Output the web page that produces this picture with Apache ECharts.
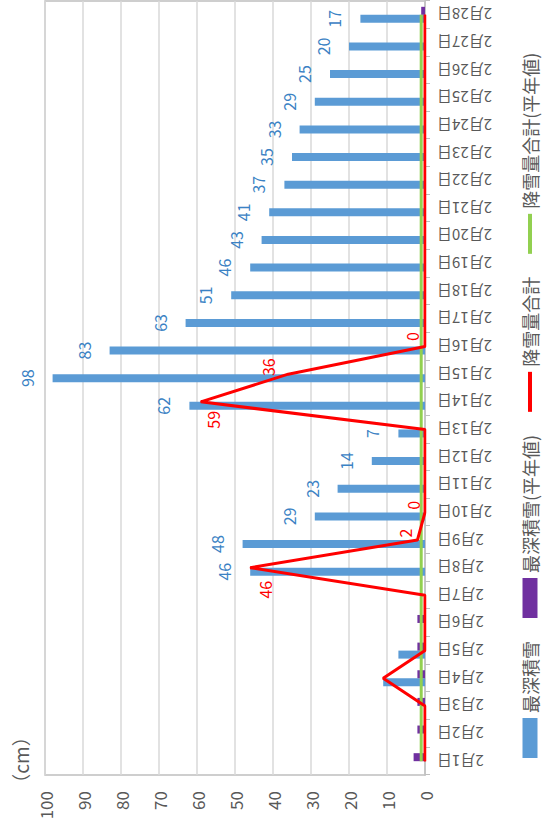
<!DOCTYPE html>
<html>
<head>
<meta charset="utf-8">
<script src="https://cdn.jsdelivr.net/npm/echarts@6/dist/echarts.min.js"></script>
<style>
html, body { margin: 0; padding: 0; width: 543px; height: 830px; overflow: hidden; background: #ffffff; }
#chart { position: absolute; left: 0; top: 0; width: 830px; height: 543px;
  transform-origin: 0 0; transform: translate(0, 830px) rotate(-90deg); }
</style>
</head>
<body>
<div id="chart"></div>
<script>
// ---- data ----
const categories = ['2月1日','2月2日','2月3日','2月4日','2月5日','2月6日','2月7日','2月8日','2月9日','2月10日',
  '2月11日','2月12日','2月13日','2月14日','2月15日','2月16日','2月17日','2月18日','2月19日','2月20日',
  '2月21日','2月22日','2月23日','2月24日','2月25日','2月26日','2月27日','2月28日'];
const snowDepth       = [0, 0, 0, 11, 7, 0, 0, 46, 48, 29, 23, 14, 7, 62, 98, 83, 63, 51, 46, 43, 41, 37, 35, 33, 29, 25, 20, 17];
const snowDepthNormal = [3, 2, 2, 2, 2, 2, 0, 0, 0, 0, 0, 0, 0, 0, 0, 0, 0, 0, 0, 0, 0, 0, 0, 0, 0, 0, 0, 1];
const snowfall        = [0, 0, 0, 11, 0, 0, 0, 46, 2, 0, 0, 0, 0, 59, 36, 0, 0, 0, 0, 0, 0, 0, 0, 0, 0, 0, 0, 0];
const snowfallNormal  = [1, 1, 1, 1, 1, 1, 1, 1, 1, 1, 1, 1, 1, 1, 1, 1, 1, 1, 1, 1, 1, 1, 1, 1, 1, 1, 1, 1];
const seriesNames = ['最深積雪', '最深積雪(平年値)', '降雪量合計', '降雪量合計(平年値)'];
const valueMin = 0, valueMax = 100, valueStep = 10;
const axisUnit = '（cm）';

// which points carry a visible label (indices into the arrays)
const depthLabelIdx = [7,8,9,10,11,12,13,14,15,16,17,18,19,20,21,22,23,24,25,26,27];
const snowfallLabelIdx = [7, 8, 9, 13, 14, 15];
// label placement (style, not data)
const snowfallLabelOffset = { 7: [-22, 15], 8: [7, -12], 9: [7, -12], 13: [-18, 12], 14: [7, -20], 15: [10, -13] };

const depthData = snowDepth.map((v, i) => ({ value: v, label: { show: depthLabelIdx.includes(i) } }));
const snowfallData = snowfall.map((v, i) => snowfallLabelIdx.includes(i)
  ? { value: v, label: { show: true, position: 'inside', offset: snowfallLabelOffset[i] } }
  : { value: v, label: { show: false } });

const FONT = '"Noto Sans CJK JP", "Noto Sans", sans-serif';
const lineIcon = 'path://M0,0H40V4H0Z';

const chart = echarts.init(document.getElementById('chart'), null, { renderer: 'svg' });
chart.setOption({
  animation: false,
  backgroundColor: '#ffffff',
  textStyle: { fontFamily: FONT },
  grid: { left: 55, right: 1, top: 45, bottom: 118, show: true, borderColor: '#bfbfbf', borderWidth: 1.5 },
  graphic: [{
    type: 'text', x: 70, y: 20, silent: true,
    style: { text: axisUnit, fontSize: 19, fill: '#595959', align: 'center', verticalAlign: 'middle', fontFamily: FONT }
  }],
  legend: {
    left: 67, top: 516, orient: 'horizontal',
    itemWidth: 40, itemHeight: 15, itemGap: 23,
    textStyle: { fontSize: 18, color: '#595959', fontFamily: FONT },
    data: [
      { name: seriesNames[0], icon: 'rect' },
      { name: seriesNames[1], icon: 'rect' },
      { name: seriesNames[2], icon: lineIcon },
      { name: seriesNames[3], icon: lineIcon }
    ]
  },
  xAxis: {
    type: 'category', data: categories, boundaryGap: true,
    axisLine: { show: true, lineStyle: { color: '#bfbfbf', width: 1.5 } },
    axisTick: { show: true, length: 5, lineStyle: { color: '#bfbfbf' } },
    axisLabel: { rotate: 90, margin: 12, fontSize: 15, color: '#595959', fontFamily: FONT, interval: 0 }
  },
  yAxis: {
    type: 'value', min: valueMin, max: valueMax, interval: valueStep,
    axisLine: { show: false },
    axisTick: { show: false },
    axisLabel: { fontSize: 17, color: '#595959', margin: 16, fontFamily: FONT },
    splitLine: { show: true, lineStyle: { color: '#d9d9d9', width: 1.5 } }
  },
  series: [
    {
      name: seriesNames[0], type: 'bar', data: depthData, barWidth: 8, barGap: '0%',
      clip: false,
      itemStyle: { color: '#5b9bd5' },
      label: { position: ['50%', -26], align: 'center', verticalAlign: 'middle',
               fontSize: 16, color: '#3b82c4', fontFamily: FONT }
    },
    {
      name: seriesNames[1], type: 'bar', data: snowDepthNormal, barWidth: 8, barGap: '0%',
      itemStyle: { color: '#7030a0' }
    },
    {
      name: seriesNames[2], type: 'line', data: snowfallData,
      symbol: 'circle', symbolSize: 1, showSymbol: true,
      lineStyle: { color: '#ff0000', width: 3 }, itemStyle: { color: '#ff0000' },
      label: { fontSize: 16, color: '#ff0000', fontFamily: FONT },
      z: 4
    },
    {
      name: seriesNames[3], type: 'line', data: snowfallNormal,
      symbol: 'none',
      lineStyle: { color: '#92d050', width: 3 }, itemStyle: { color: '#92d050' },
      z: 3
    }
  ]
});
</script>
</body>
</html>
